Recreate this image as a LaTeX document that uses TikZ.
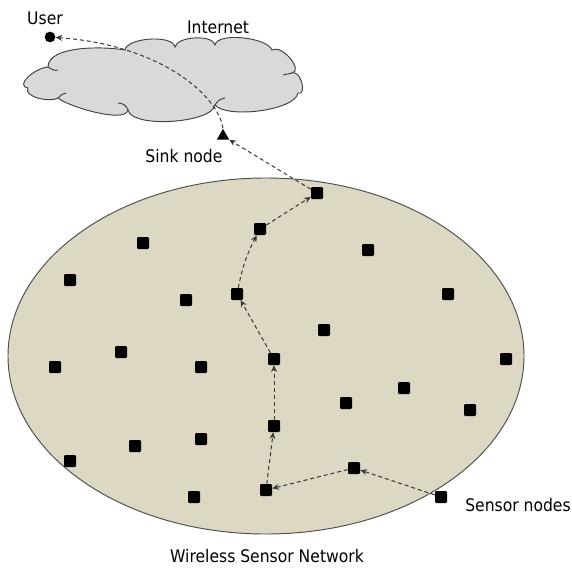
\documentclass[tikz,border=0pt]{standalone}
\usepackage{fontspec}
\setmainfont{DejaVu Sans Condensed}
\usetikzlibrary{shapes.geometric,arrows.meta}
\definecolor{field}{RGB}{221,216,196}
\definecolor{cloudgray}{RGB}{217,217,217}
\definecolor{dashc}{RGB}{60,55,50}
\tikzset{
  sensor/.style={fill=black,minimum size=9pt,inner sep=0pt,rounded corners=0.8pt},
  link/.style={draw=dashc,line width=0.75pt,dash pattern=on 3pt off 2.2pt,-{Stealth[length=5pt,width=4.5pt]}},
  lbl/.style={font=\fontsize{13}{15}\selectfont,inner sep=0pt},
  cloudline/.style={draw=black!75,line width=0.7pt}
}
\begin{document}
\begin{tikzpicture}[x=0.75pt,y=-0.75pt]
\useasboundingbox (0,0) rectangle (572,568);
% field
\draw[fill=field,draw=black!70,line width=0.7pt] (266,356) ellipse [x radius=258, y radius=178];
% cloud (angles are in page frame: 90 = up)
\draw[cloudline,fill=cloudgray] (28,88)
  to[out=170,in=185,looseness=1.2] (48,67)
  to[out=90,in=170,looseness=0.7] (125,50)
  to[out=80,in=100,looseness=0.65] (175,47)
  to[out=80,in=100,looseness=0.7] (215,45)
  to[out=80,in=110,looseness=0.6] (272,50)
  to[out=30,in=10,looseness=1.0] (292,73)
  to[out=20,in=-20,looseness=1.2] (298,93)
  to[out=-100,in=-50,looseness=0.55] (215,105)
  to[out=-100,in=-80,looseness=0.55] (128,110)
  to[out=-100,in=-40,looseness=0.5] (58,98)
  to[out=-150,in=-120,looseness=0.8] (28,88) -- cycle;
\draw[cloudline] (48,67) to[out=-30,in=-160] (58,70);
\draw[cloudline] (215,105) to[out=60,in=-170] (225,98);
\draw[cloudline] (292,73) to[out=180,in=0] (283,75);
\draw[cloudline] (58,98) to[out=40,in=180] (66,93);
\draw[cloudline] (128,110) to[out=110,in=0] (118,103);
\node (cloud) at (165,80) {};
% labels
\node[lbl] (userlbl) at (45,18) {User};
\node[lbl] (netlbl) at (218,27) {Internet};
\node[lbl] (sinklbl) at (184,156) {Sink node};
\node[lbl] (senslbl) at (518,505) {Sensor nodes};
\node[lbl] (wsnlbl) at (267,556) {Wireless Sensor Network};
% user and sink
\node[circle,fill=black,minimum size=8pt,inner sep=0pt] (user) at (50,37) {};
\node[isosceles triangle,isosceles triangle apex angle=60,shape border rotate=90,fill=black,minimum height=8pt,minimum width=7pt,inner sep=0pt] (sink) at (223,136) {};
% sensors
\foreach \n/\x/\y in {s1/317/193,s2/260/229,s3/143/243,s4/368/250,s5/70/280,s6/186/300,s7/237/294,s8/448/294,s9/324/330,s10/121/352,s11/55/367,s12/201/367,s13/274/359,s14/506/359,s15/404/388,s16/346/403,s17/470/410,s18/274/426,s19/201/439,s20/135/446,s21/70/461,s22/354/468,s23/266/490,s24/194/497,s25/441/497}
  \node[sensor] (\n) at (\x,\y) {};
% routes
\draw[link] (s25) -- (s22);
\draw[link] (s22) -- (s23);
\draw[link] (s23) -- (s18);
\draw[link] (s18) -- (s13);
\draw[link] (s13) -- (s7);
\draw[link] (s7) to[bend left=8] (s2);
\draw[link] (s2) -- (s1);
\draw[link] (s1) -- (sink);
\draw[link] (sink.apex) .. controls (218,95) and (160,45) .. (user);
\end{tikzpicture}
\end{document}
